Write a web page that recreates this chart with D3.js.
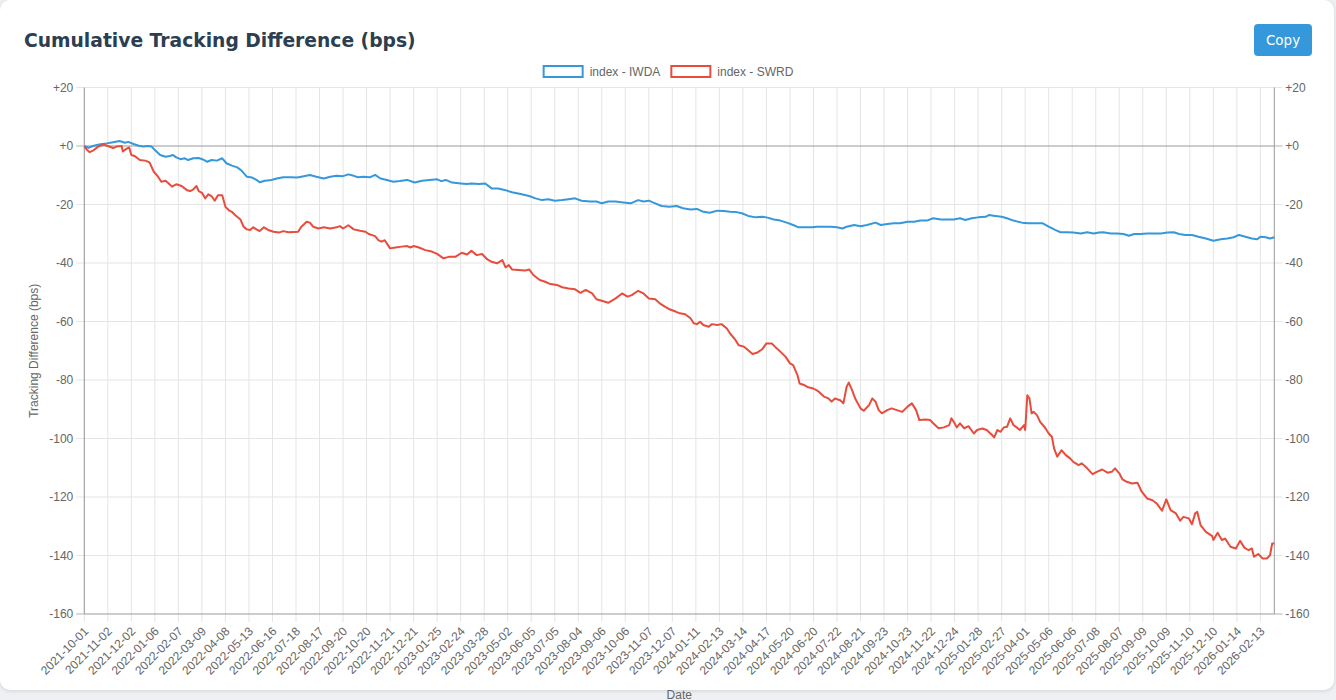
<!DOCTYPE html>
<html>
<head>
<meta charset="utf-8">
<script src="https://cdn.jsdelivr.net/npm/d3@7"></script>
<style>
  html, body { margin: 0; padding: 0; background: #eef0f3; }
  .card {
    position: absolute; left: 0; top: 0; width: 1334px; height: 690px;
    background: #fff; border-radius: 10px; box-shadow: 0 1px 4px rgba(0,0,0,0.12);
  }
  #chart { position: absolute; left: 0; top: 0; }
</style>
</head>
<body>
<div class="card"></div>
<div id="chart"></div>
<script>
// x tick labels (one every 22 trading days)
const tickLabels = [
  "2021-10-01","2021-11-02","2021-12-02","2022-01-06","2022-02-07","2022-03-09","2022-04-08",
  "2022-05-13","2022-06-16","2022-07-18","2022-08-17","2022-09-20","2022-10-20","2022-11-21",
  "2022-12-21","2023-01-25","2023-02-24","2023-03-28","2023-05-02","2023-06-05","2023-07-05",
  "2023-08-04","2023-09-06","2023-10-06","2023-11-07","2023-12-07","2024-01-11","2024-02-13",
  "2024-03-14","2024-04-17","2024-05-20","2024-06-20","2024-07-22","2024-08-21","2024-09-23",
  "2024-10-23","2024-11-22","2024-12-24","2025-01-28","2025-02-27","2025-04-01","2025-05-06",
  "2025-06-06","2025-07-08","2025-08-07","2025-09-09","2025-10-09","2025-11-10","2025-12-10",
  "2026-01-14","2026-02-13"
];
const tickStep = 22;
const lastDay = 1113;
const yTicks = [20, 0, -20, -40, -60, -80, -100, -120, -140, -160];

// index - IWDA : trading-day number, cumulative difference (bps)
const iwdaDay = [0,4,8,15,21,27,33,38,41,46,51,55,60,63,66,71,76,80,83,86,90,94,97,102,107,111,115,119,124,129,
  133,138,143,147,152,157,161,164,169,175,180,186,193,199,203,211,217,224,230,236,242,247,252,256,261,267,
  272,277,283,289,295,302,309,316,323,330,334,338,344,352,358,362,369,375,381,387,394,400,408,416,422,428,
  434,440,447,453,459,465,473,479,484,490,497,504,511,518,523,528,534,540,547,
  554,560,567,573,579,585,592,598,604,610,615,621,628,634,638,645,651,657,663,668,674,681,685,692,698,704,
  709,713,720,726,732,740,745,751,757,763,770,776,782,788,794,801,807,813,819,
  824,830,836,843,846,852,858,863,869,877,883,890,896,902,908,913,919,925,932,938,944,949,953,960,966,972,
  977,982,988,994,1000,1007,1013,1019,1024,1030,1036,1042,1049,1056,1063,1069,1075,1080,1086,1092,1097,
  1100,1105,1109,1113];
const iwdaVal = [0,-0.6,0,0.6,0.9,1.3,1.7,1.1,1.4,0.7,0.1,-0.2,0,-0.2,-1.4,-3.1,-3.7,-3.4,-3.1,-3.9,-4.5,-4.2,-4.8,-4.2,-4.1,-4.6,-5.4,-4.8,-5.0,-4.2,
  -5.9,-6.7,-7.3,-8.4,-10.5,-10.8,-11.6,-12.4,-11.9,-11.6,-11.1,-10.7,-10.7,-10.8,-10.5,-9.9,-10.5,-11.1,-10.5,-10.2,-10.3,-9.7,-10.2,-10.7,-10.5,-10.7,
  -9.9,-11.1,-11.6,-12.2,-12.0,-11.6,-12.5,-11.9,-11.6,-11.4,-12.0,-11.6,-12.5,-12.8,-13.0,-12.8,-13.0,-12.8,-14.5,-14.5,-15.1,-15.8,-16.4,-17.1,-17.9,-18.5,
  -18.2,-18.7,-18.5,-18.2,-17.9,-18.7,-19.0,-19.0,-19.6,-19.0,-19.0,-19.3,-19.6,-18.5,-19.0,-18.7,-19.6,-20.5,-20.8,
  -20.5,-21.3,-21.7,-21.5,-22.5,-22.8,-22.1,-22.2,-22.5,-22.6,-23.0,-23.9,-24.4,-24.2,-24.4,-25.1,-25.5,-26.2,-27.0,-27.8,-27.8,-27.8,-27.6,-27.6,-27.6,-27.8,
  -28.2,-27.6,-27.0,-27.4,-27.0,-26.2,-27.0,-26.7,-26.4,-26.4,-25.9,-25.9,-25.5,-25.5,-24.7,-25.1,-25.1,-25.1,-24.7,
  -25.3,-24.7,-24.4,-24.2,-23.6,-23.9,-24.2,-24.7,-25.5,-26.2,-26.4,-26.4,-26.4,-27.6,-28.7,-29.5,-29.5,-29.6,-29.9,-29.5,-29.9,-29.6,-29.5,-29.9,-29.9,-30.1,
  -30.7,-30.1,-30.1,-29.9,-29.9,-29.9,-29.6,-29.5,-30.1,-30.4,-30.4,-31.0,-31.6,-32.4,-31.9,-31.6,-31.2,-30.4,-31.0,-31.6,-31.9,
  -31.0,-31.2,-31.6,-31.2];

// index - SWRD : trading-day number, cumulative difference (bps)
const swrdDay = [0,2,5,8,13,18,22,27,30,35,36,40,42,44,47,52,57,61,65,69,72,76,79,82,86,91,96,99,102,105,107,110,113,116,119,122,125,129,
  132,135,138,141,146,149,152,155,158,161,164,168,172,177,182,186,191,196,200,203,208,211,214,219,224,230,236,239,242,247,252,258,263,266,
  272,275,278,281,286,291,297,302,305,308,313,319,325,330,336,341,347,353,358,362,367,372,377,381,386,391,394,397,400,406,412,416,420,426,
  431,436,442,447,453,459,464,469,475,479,484,490,497,503,508,512,518,523,528,534,539,543,548,
  553,557,562,567,570,573,576,579,584,587,592,596,601,604,609,612,617,621,625,629,634,638,643,646,651,656,660,663,667,669,673,677,682,687,
  692,696,699,702,707,710,713,715,718,721,726,729,734,737,740,743,746,751,755,760,765,770,774,778,781,787,791,794,799,804,809,811,814,816,819,823,
  827,832,835,840,844,849,851,854,857,860,863,866,869,872,875,879,880,882,884,886,888,891,894,899,902,905,907,910,914,918,922,925,930,933,
  938,943,947,952,957,961,964,968,971,975,980,985,989,994,999,1003,1008,1012,1016,1021,1025,1028,1033,1036,1039,1041,1044,1049,1055,1056,
  1060,1064,1067,1072,1077,1081,1085,1089,1092,1094,1098,1102,1106,1109,1111,1113];
const swrdVal = [-0.2,-1.1,-2.1,-1.6,-0.2,0.5,0,-0.7,-0.2,0,-1.9,-0.8,-0.5,-3.1,-3.4,-4.8,-5.0,-5.6,-8.8,-10.5,-12.2,-11.9,-12.8,-13.9,-13.1,-13.7,-15.1,-15.4,-14.8,-13.7,-15.4,-16.0,-17.9,-16.5,-17.1,-18.7,-16.8,-16.8,
  -20.8,-21.9,-22.5,-23.6,-25.1,-27.6,-28.5,-28.7,-27.8,-28.5,-29.1,-27.8,-28.7,-29.3,-29.6,-29.1,-29.5,-29.4,-29.3,-27.6,-25.9,-26.2,-27.6,-28.2,-27.8,-28.2,-27.8,-27.4,-28.2,-27.1,-28.5,-29.0,-29.3,-30.1,
  -30.8,-32.2,-32.7,-32.2,-35.0,-34.7,-34.4,-34.2,-34.7,-34.2,-34.7,-35.6,-36.1,-36.9,-38.4,-37.9,-37.9,-36.5,-37.1,-35.8,-37.3,-36.9,-38.8,-39.6,-40.1,-39.0,-41.5,-40.7,-42.2,-42.4,-42.6,-42.2,-44.1,-45.8,
  -46.4,-47.2,-47.5,-48.3,-48.7,-49.0,-50.2,-49.2,-50.4,-52.4,-52.9,-53.6,-52.1,-50.4,-51.5,-51.0,-49.5,-50.4,-52.1,-52.4,-54.0,-54.9,-55.9,
  -56.6,-57.2,-57.5,-58.9,-60.6,-60.9,-60.1,-61.2,-61.8,-60.9,-61.2,-60.9,-62.4,-64.1,-66.3,-68.1,-68.6,-69.8,-71.1,-70.7,-69.5,-67.5,-67.5,-68.6,-70.3,-72.1,-74.3,-74.9,-78.3,-81.2,-81.7,-82.5,-82.9,-84.0,
  -85.7,-86.3,-87.4,-86.3,-86.9,-88.0,-82.3,-80.9,-83.4,-86.3,-89.7,-90.5,-88.6,-86.3,-87.4,-90.3,-91.4,-90.3,-89.7,-90.3,-90.9,-89.1,-88.0,-90.3,-93.7,-93.5,-93.7,-94.8,-96.5,-96.2,-95.4,-93.1,-94.8,-96.2,-94.8,-96.5,
  -95.8,-98.3,-97.1,-96.6,-97.1,-98.8,-99.6,-97.1,-97.7,-96.2,-96.0,-93.1,-95.4,-96.2,-97.1,-95.4,-97.1,-85.2,-86.3,-91.4,-90.9,-92.0,-94.3,-96.5,-98.3,-99.4,-103.4,-106.2,-104.0,-105.7,-106.8,-108.0,-109.1,-108.5,
  -110.2,-112.2,-111.4,-110.6,-111.7,-111.4,-110.2,-111.9,-114.0,-114.8,-115.4,-115.1,-118.2,-120.5,-121.1,-122.2,-124.7,-120.8,-124.5,-125.6,-128.1,-126.8,-127.3,-129.3,-125.6,-125.1,-129.6,-131.9,-133.4,-134.7,
  -132.2,-134.7,-134.2,-137.0,-137.6,-135.0,-137.3,-138.2,-137.6,-140.4,-139.5,-141.0,-141.0,-139.9,-135.9,-135.9];

const series = [
  { name: "index - IWDA", color: "#3498db", day: iwdaDay, val: iwdaVal },
  { name: "index - SWRD", color: "#e74c3c", day: swrdDay, val: swrdVal }
];

const W = 1336, H = 700;
const plot = { left: 84.3, right: 1274.3, top: 87.5, bottom: 614 };
const font = "'Liberation Sans', Arial, sans-serif";
const grid = "#e5e5e5", axisCol = "#999", textCol = "#666";

const svg = d3.select("#chart").append("svg")
  .attr("width", W).attr("height", H)
  .style("overflow", "visible");

// title + copy button
svg.append("text")
  .attr("x", 24).attr("y", 47)
  .attr("font-family", "'DejaVu Sans', sans-serif")
  .attr("font-weight", "bold").attr("font-size", 18.72)
  .attr("fill", "#2c3e50")
  .text("Cumulative Tracking Difference (bps)");

const btn = svg.append("g").attr("transform", "translate(1254,24)");
btn.append("rect").attr("width", 58).attr("height", 32).attr("rx", 4).attr("fill", "#3498db");
btn.append("text").attr("x", 29).attr("y", 21)
  .attr("text-anchor", "middle")
  .attr("font-family", "'DejaVu Sans', sans-serif").attr("font-size", 13.5)
  .attr("fill", "#fff").text("Copy");

const x = d3.scaleLinear().domain([0, lastDay]).range([plot.left, plot.right]);
const y = d3.scaleLinear().domain([-160, 20]).range([plot.bottom, plot.top]);
const tickDays = tickLabels.map((d, i) => i * tickStep);
const fmtY = d => (d >= 0 ? "+" : "") + d;

// vertical grid
svg.append("g").selectAll("line").data(tickDays).join("line")
  .attr("x1", d => x(d)).attr("x2", d => x(d))
  .attr("y1", plot.top).attr("y2", plot.bottom + 8)
  .attr("stroke", grid).attr("stroke-width", 1);

// horizontal grid
svg.append("g").selectAll("line").data(yTicks).join("line")
  .attr("x1", plot.left - 8).attr("x2", plot.right + 8)
  .attr("y1", d => y(d)).attr("y2", d => y(d))
  .attr("stroke", d => (d === 0 || d === -160) ? axisCol : grid)
  .attr("stroke-width", 1);
// tick stubs stay light for zero / bottom
svg.append("g").selectAll("line").data([0, -160]).join("line")
  .attr("x1", plot.left - 8).attr("x2", plot.left)
  .attr("y1", d => y(d)).attr("y2", d => y(d)).attr("stroke", grid);
svg.append("g").selectAll("line").data([0, -160]).join("line")
  .attr("x1", plot.right).attr("x2", plot.right + 8)
  .attr("y1", d => y(d)).attr("y2", d => y(d)).attr("stroke", grid);

// left / right axis lines
[plot.left, plot.right].forEach(px => {
  svg.append("line").attr("x1", px).attr("x2", px)
    .attr("y1", plot.top).attr("y2", plot.bottom)
    .attr("stroke", axisCol).attr("stroke-width", 1);
});

// y tick labels both sides
svg.append("g").selectAll("text").data(yTicks).join("text")
  .attr("x", plot.left - 11).attr("y", d => y(d)).attr("dy", "0.35em")
  .attr("text-anchor", "end").attr("font-family", font).attr("font-size", 12)
  .attr("fill", textCol).text(fmtY);
svg.append("g").selectAll("text").data(yTicks).join("text")
  .attr("x", plot.right + 11).attr("y", d => y(d)).attr("dy", "0.35em")
  .attr("text-anchor", "start").attr("font-family", font).attr("font-size", 12)
  .attr("fill", textCol).text(fmtY);

// x tick labels rotated
svg.append("g").selectAll("text").data(tickLabels).join("text")
  .attr("transform", (d, i) => `translate(${x(tickDays[i]) + 2},${plot.bottom + 15}) rotate(-45)`)
  .attr("dy", "0.35em")
  .attr("text-anchor", "end").attr("font-family", font).attr("font-size", 12)
  .attr("fill", textCol).text(d => d);

// axis titles
svg.append("text")
  .attr("x", (plot.left + plot.right) / 2).attr("y", 699)
  .attr("text-anchor", "middle").attr("font-family", font).attr("font-size", 12)
  .attr("fill", textCol).text("Date");
svg.append("text")
  .attr("transform", `translate(38,${(plot.top + plot.bottom) / 2}) rotate(-90)`)
  .attr("text-anchor", "middle").attr("font-family", font).attr("font-size", 12)
  .attr("fill", textCol).text("Tracking Difference (bps)");

// lines
const line = d3.line().x(d => x(d[0])).y(d => y(d[1]));
svg.append("g").selectAll("path").data(series).join("path")
  .attr("d", s => line(s.day.map((d, i) => [d, s.val[i]])))
  .attr("fill", "none")
  .attr("stroke", s => s.color)
  .attr("stroke-width", 2)
  .attr("stroke-linejoin", "round");

// legend
const legend = svg.append("g");
let lx = 0;
series.forEach(s => {
  const g = legend.append("g").attr("transform", `translate(${lx},0)`);
  g.append("rect").attr("x", 1).attr("y", 66).attr("width", 39).attr("height", 11)
    .attr("fill", "#fff").attr("stroke", s.color).attr("stroke-width", 2);
  const t = g.append("text").attr("x", 47).attr("y", 71.5).attr("dy", "0.35em")
    .attr("font-family", font).attr("font-size", 12).attr("fill", textCol).text(s.name);
  lx += 47 + t.node().getComputedTextLength() + 10;
});
legend.attr("transform", `translate(${668 - (lx - 10) / 2},0)`);
</script>
</body>
</html>
